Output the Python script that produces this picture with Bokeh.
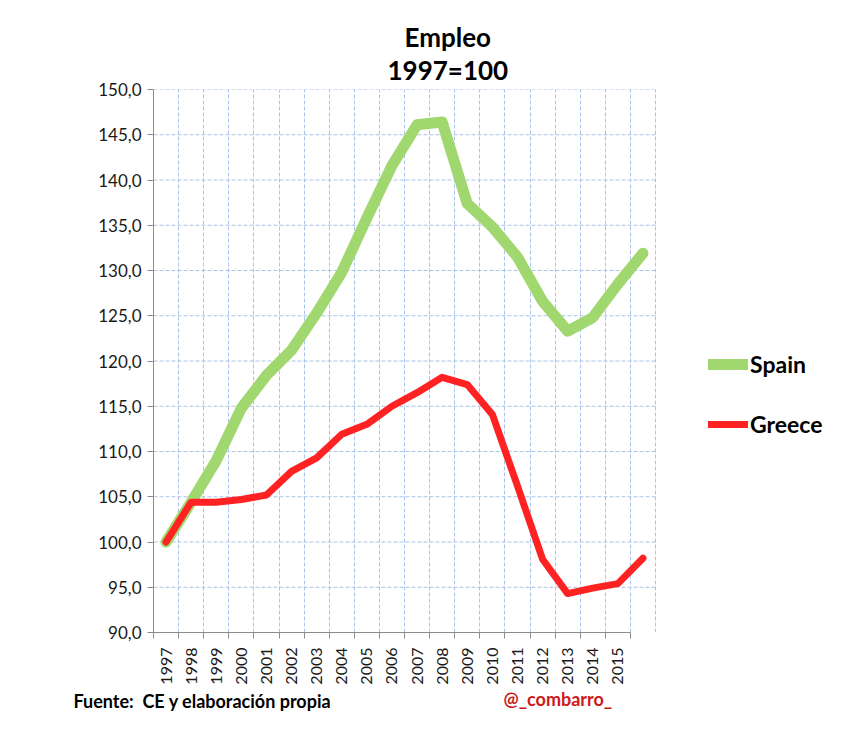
import math
from bokeh.plotting import figure
from bokeh.models import (Range1d, FixedTicker, Legend, LegendItem, Title)
from bokeh.embed import file_html
from bokeh.resources import INLINE

# ---- data ----
years = [1997, 1998, 1999, 2000, 2001, 2002, 2003, 2004, 2005, 2006,
         2007, 2008, 2009, 2010, 2011, 2012, 2013, 2014, 2015, 2016]
spain = [100.0, 104.4, 109.0, 114.8, 118.4, 121.2, 125.3, 129.8, 135.8, 141.6,
         146.1, 146.4, 137.4, 134.8, 131.5, 126.6, 123.3, 124.8, 128.5, 131.9]
greece = [100.0, 104.4, 104.4, 104.7, 105.2, 107.8, 109.3, 111.9, 113.0, 115.0,
          116.5, 118.2, 117.4, 114.1, 106.2, 98.1, 94.3, 94.9, 95.4, 98.2]
tick_years = [str(y) for y in years[:19]]
y_ticks = list(range(90, 151, 5))

FONT = "Lato"
GRID = "#a9c3ec"
W, H = 846, 732
LEFT, TOP, BOTTOM = 153, 89, 100
PLOT_W = 502  # width of the gridded plotting area in px

n = len(years)
xs = list(range(n))
units_per_px = n / PLOT_W
x_end = -0.5 + (W - LEFT) * units_per_px

p = figure(width=W, height=H, output_backend="svg", toolbar_location=None,
           x_range=Range1d(-0.5, x_end), y_range=Range1d(90, 150),
           min_border_left=LEFT, min_border_right=0, min_border_top=TOP,
           min_border_bottom=BOTTOM)
p.outline_line_color = None

# ---- title (two lines) ----
p.title.text = "Empleo"
p.title.align = "left"
p.title.offset = 251
p.title.standoff = -9
p.title.text_font = FONT
p.title.text_font_size = "26px"
p.title.text_font_style = "bold"
p.title.text_color = "black"
p.add_layout(Title(text="1997=100", align="left", offset=234, standoff=7,
                   text_font=FONT, text_font_size="26px", text_font_style="bold",
                   text_color="black"), "above")

# ---- grids ----
p.xgrid.ticker = FixedTicker(ticks=[i - 0.5 for i in range(n + 1)])
p.xgrid.grid_line_color = GRID
p.xgrid.grid_line_dash = "4 2"
p.ygrid.visible = False
gy = y_ticks[1:]
p.segment(x0=[-0.5] * len(gy), x1=[n - 0.5] * len(gy), y0=gy, y1=gy,
          line_color=GRID, line_dash="4 2", line_width=1)

# ---- axes ----
xa = p.xaxis[0]
xa.ticker = FixedTicker(ticks=list(range(len(tick_years))),
                        minor_ticks=[i - 0.5 for i in range(len(tick_years) + 1)])
xa.major_label_overrides = {i: t for i, t in enumerate(tick_years)}
xa.bounds = (-0.5, len(tick_years) - 0.5)
xa.major_tick_out = 0
xa.major_tick_in = 0
xa.minor_tick_out = 6
xa.minor_tick_in = 0
xa.minor_tick_line_color = "#8c8c8c"
xa.axis_line_color = "#8c8c8c"
xa.major_label_orientation = math.pi / 2
xa.major_label_standoff = 9
xa.major_label_text_font = FONT
xa.major_label_text_font_size = "16px"
xa.major_label_text_color = "#1a1a1a"

ya = p.yaxis[0]
ya.ticker = FixedTicker(ticks=y_ticks)
ya.major_label_overrides = {v: f"{v},0" for v in y_ticks}
ya.major_tick_out = 6
ya.major_tick_in = 0
ya.minor_tick_out = 0
ya.minor_tick_in = 0
ya.major_tick_line_color = "#8c8c8c"
ya.axis_line_color = "#8c8c8c"
ya.major_label_standoff = 6
ya.major_label_text_font = FONT
ya.major_label_text_font_size = "17px"
ya.major_label_text_color = "#1a1a1a"

# ---- series ----
r_sp = p.line(xs, spain, line_color="#a0d76e", line_width=11,
              line_join="round", line_cap="round")
r_gr = p.line(xs, greece, line_color="#ff2222", line_width=7,
              line_join="round", line_cap="round")

legend = Legend(items=[LegendItem(label="Spain", renderers=[r_sp]),
                       LegendItem(label="Greece", renderers=[r_gr])],
                location=(555, 194), orientation="vertical",
                glyph_width=40, glyph_height=26, label_height=26,
                spacing=32, padding=0, margin=0, label_standoff=2,
                border_line_color=None, background_fill_alpha=0,
                label_text_font=FONT, label_text_font_size="23px",
                label_text_font_style="bold", label_text_color="black")
p.add_layout(legend)

# ---- footer ----
p.add_layout(Title(text="@_combarro_", align="left", offset=350, standoff=0,
                   vertical_align="top", text_font=FONT, text_font_size="18px",
                   text_font_style="bold", text_color="#cc1a1a"), "below")
p.add_layout(Title(text="Fuente:\u00a0 CE y elaboración propia", align="left",
                   offset=-80, standoff=-43, vertical_align="top",
                   text_font=FONT, text_font_size="18px", text_font_style="bold",
                   text_color="black"), "below")

open("out.html", "w").write(file_html(p, INLINE))
